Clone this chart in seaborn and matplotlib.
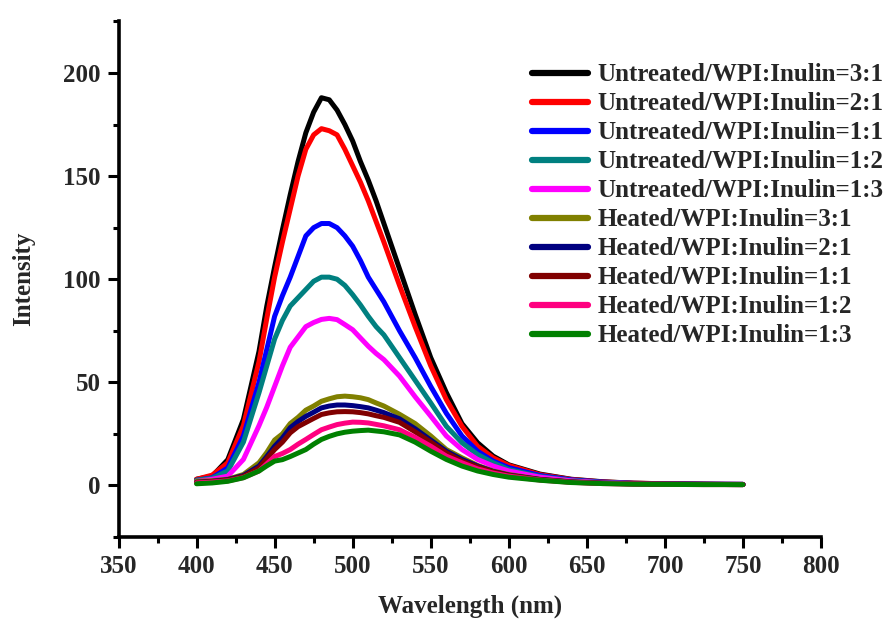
import numpy as np
import pandas as pd
import matplotlib
matplotlib.use("Agg")
import matplotlib.pyplot as plt
from matplotlib.ticker import MultipleLocator
import seaborn as sns

# Emission wavelengths (nm) at which the spectra are sampled
wavelength = [400, 410, 420, 430, 440, 445, 450, 455, 460, 465, 470, 475, 480,
              485, 490, 495, 500, 505, 510, 515, 520, 530, 540, 550, 560, 570,
              580, 590, 600, 620, 640, 660, 680, 700, 725, 750]

untreated_3_1 = [3.0, 4.5, 12.5, 32, 65, 87, 106, 124, 141, 157, 171, 181, 188,
                 187, 182, 175, 167, 157, 148, 138, 127, 105, 83, 62, 45, 30,
                 20.7, 14.2, 10, 5.5, 3.0, 1.8, 1.1, 0.8, 0.6, 0.5]
untreated_2_1 = [3.0, 5.0, 11, 29, 60, 81, 101, 118, 134, 150, 163, 170, 173,
                 172, 170, 163, 155, 147, 138, 128, 118, 97, 77, 58, 41.6, 28.7,
                 19, 13.4, 9.7, 5.2, 2.9, 1.7, 1.1, 0.8, 0.6, 0.5]
untreated_1_1 = [2.5, 3.7, 8.5, 24, 50, 66, 82, 92, 101, 111, 121, 125, 127,
                 127, 125, 121, 116, 109, 101, 95, 89, 75, 62, 48, 35, 24,
                 16.6, 11.8, 8.6, 4.8, 2.7, 1.6, 1.0, 0.8, 0.6, 0.5]
untreated_1_2 = [2.5, 3.5, 7, 21, 45, 58, 71, 80, 87, 91, 95, 99, 101,
                 101, 100, 97, 92.5, 87.5, 82, 77, 73, 62, 51, 40, 28.7, 20.7,
                 15, 11, 7.7, 4.3, 2.4, 1.4, 0.9, 0.7, 0.5, 0.5]
untreated_1_3 = [2.0, 3.0, 4.5, 12.6, 29, 38, 48, 58, 67, 72, 77, 79, 80.5,
                 81, 80.4, 78, 75.5, 71.5, 67.5, 64, 61, 53, 43, 33.6, 24, 17.4,
                 12.6, 9.4, 7.0, 4.0, 2.2, 1.3, 0.9, 0.7, 0.5, 0.5]
heated_3_1 = [2.0, 2.3, 3.0, 5.3, 11, 16, 22, 25, 30, 33, 36.5, 38.5, 40.8,
              42, 43, 43.3, 43, 42.5, 41.6, 40, 38.5, 34.5, 30, 24, 17.4, 13.4,
              9.7, 7.0, 5.3, 3.0, 1.8, 1.1, 0.8, 0.6, 0.5, 0.4]
heated_2_1 = [1.5, 2.0, 2.8, 4.8, 9.4, 14, 19, 23, 28, 31, 33.5, 35.5, 37.6,
              38.5, 39, 39, 38.7, 38.2, 37.6, 36.5, 35.3, 32.3, 27.5, 22, 16.6,
              12.6, 9.4, 6.8, 5.0, 2.9, 1.7, 1.1, 0.8, 0.6, 0.5, 0.4]
heated_1_1 = [1.5, 1.9, 2.6, 4.4, 8.5, 13, 17.4, 21, 25.5, 28.5, 30.5, 32.5,
              34.4, 35.2, 35.7, 35.8, 35.7, 35.3, 34.7, 33.8, 33, 30.6, 26, 21,
              15.8, 11.8, 9.0, 6.6, 4.9, 2.8, 1.6, 1.0, 0.7, 0.6, 0.5, 0.4]
heated_1_2 = [1.2, 1.6, 2.2, 3.8, 7.0, 10.5, 14, 15.5, 17.4, 20, 22.3, 24.7,
              27, 28.3, 29.5, 30.2, 30.7, 30.6, 30.3, 29.6, 28.9, 27, 23.3, 19,
              14.2, 11, 8.0, 6.0, 4.5, 2.6, 1.5, 0.9, 0.7, 0.5, 0.4, 0.4]
heated_1_3 = [0.8, 1.2, 2.0, 3.7, 7.0, 9.5, 11.8, 12.5, 14, 15.7, 17.4, 20,
              22.3, 23.8, 25, 25.8, 26.3, 26.6, 26.8, 26.4, 26, 24.5, 21, 16.6,
              12.6, 9.4, 7.0, 5.3, 4.0, 2.5, 1.4, 0.9, 0.6, 0.5, 0.4, 0.4]

sample_names = [
    "Untreated/WPI:Inulin=3:1",
    "Untreated/WPI:Inulin=2:1",
    "Untreated/WPI:Inulin=1:1",
    "Untreated/WPI:Inulin=1:2",
    "Untreated/WPI:Inulin=1:3",
    "Heated/WPI:Inulin=3:1",
    "Heated/WPI:Inulin=2:1",
    "Heated/WPI:Inulin=1:1",
    "Heated/WPI:Inulin=1:2",
    "Heated/WPI:Inulin=1:3",
]
spectra = [untreated_3_1, untreated_2_1, untreated_1_1, untreated_1_2,
           untreated_1_3, heated_3_1, heated_2_1, heated_1_1, heated_1_2,
           heated_1_3]
line_colors = ["#000000", "#FF0000", "#0000FF", "#008080", "#FF00FF",
               "#808000", "#000080", "#800000", "#FF0080", "#008000"]

x_ticks = [350, 400, 450, 500, 550, 600, 650, 700, 750, 800]
y_ticks = [0, 50, 100, 150, 200]

df = pd.concat(
    [pd.DataFrame({"Wavelength": wavelength, "Intensity": vals, "Sample": name})
     for name, vals in zip(sample_names, spectra)],
    ignore_index=True,
)

sns.set_theme(style="ticks")
plt.rcParams["font.family"] = ["Liberation Serif", "DejaVu Serif"]
plt.rcParams["font.weight"] = "bold"
plt.rcParams["axes.labelweight"] = "bold"

fig = plt.figure(figsize=(8.85, 6.21), dpi=100)
ax = fig.add_axes([0.1339, 0.1353, 0.7938, 0.8302])

sns.lineplot(data=df, x="Wavelength", y="Intensity", hue="Sample",
             hue_order=sample_names, palette=line_colors, sort=False,
             estimator=None, linewidth=3.6, ax=ax)

ax.set_xlim(350, 800)
ax.set_ylim(-25, 225)
ax.set_xticks(x_ticks)
ax.set_yticks(y_ticks)
ax.xaxis.set_minor_locator(MultipleLocator(25))
ax.yaxis.set_minor_locator(MultipleLocator(25))
ax.tick_params(axis="both", which="major", direction="out", length=8,
               width=2.2, labelsize=18, pad=5, color="black")
ax.tick_params(axis="both", which="minor", direction="out", length=4.5,
               width=2.2, color="black")
for lab in ax.get_xticklabels() + ax.get_yticklabels():
    lab.set_fontweight("bold")

for side in ("top", "right"):
    ax.spines[side].set_visible(False)
for side in ("left", "bottom"):
    ax.spines[side].set_linewidth(2.6)
    ax.spines[side].set_color("black")

ax.set_xlabel("Wavelength (nm)", fontsize=18, fontweight="bold", labelpad=12)
ax.set_ylabel("Intensity", fontsize=18, fontweight="bold", labelpad=20)

handles, labels = ax.get_legend_handles_labels()
leg = ax.legend(handles, labels, loc="upper left",
                bbox_to_anchor=(0.601, 0.898), bbox_transform=fig.transFigure,
                frameon=False, borderpad=0, borderaxespad=0,
                handlelength=2.25, handletextpad=0.36, labelspacing=0.24,
                prop={"family": "Liberation Serif", "weight": "bold", "size": 18})
for line in leg.get_lines():
    line.set_linewidth(4.5)

fig.savefig("out.png", dpi=100)
